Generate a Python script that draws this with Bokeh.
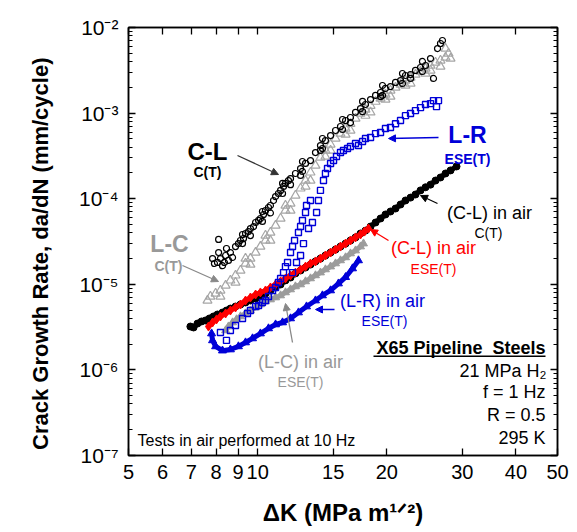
import math
from bokeh.plotting import figure
from bokeh.models import LogAxis, FixedTicker, Label, Arrow, NormalHead, BoxAnnotation, Range1d
from bokeh.embed import file_html
from bokeh.resources import INLINE

# ---------------- axis ticks ----------------
x_ticks = [5, 6, 7, 8, 9, 10, 15, 20, 30, 40, 50]
x_tick_labels = ["5", "6", "7", "8", "9", "10", "15", "20", "30", "40", "50"]
y_ticks = [1e-7, 1e-6, 1e-5, 1e-4, 1e-3, 1e-2]
y_tick_labels = ["10\u207b\u2077", "10\u207b\u2076", "10\u207b\u2075", "10\u207b\u2074", "10\u207b\u00b3", "10\u207b\u00b2"]

# ---------------- data: 21 MPa H2 ----------------
# C-L, C(T) (black open circles)
cl_h2_dk = [8.06, 8.19, 8.28, 8.42, 8.55, 8.64, 8.74, 8.11, 8.46, 8.11,
            8.88, 9.02, 9.12, 9.27, 9.37, 9.52, 9.62, 9.78, 9.89, 10.05,
            10.15, 10.32, 10.43, 10.60, 10.71, 10.89, 11.01, 11.18, 11.31, 11.49,
            11.61, 11.80, 11.93, 12.25, 12.59, 12.93, 13.28, 13.64, 14.01, 14.39,
            14.79, 15.19, 15.60, 16.03, 16.46, 16.91, 17.37, 17.84, 18.33, 18.83,
            19.34, 19.86, 20.40, 20.96, 21.53, 22.11, 22.72, 23.33, 23.97, 24.62,
            25.29, 25.70, 26.26, 26.68, 26.97,
            12.59, 14.01, 16.46, 19.34, 22.72, 10.71, 11.93, 9.62,
            9.22, 9.22, 10.26, 10.26, 11.43, 11.43, 12.72, 12.72, 14.16, 14.16,
            15.77, 15.77, 17.56, 17.56, 19.55, 19.55, 21.76, 21.76, 24.22, 24.22,
            7.85, 7.93, 8.37]
cl_h2_dadn = [1.80e-5, 2.00e-5, 1.65e-5, 2.17e-5, 1.90e-5, 2.35e-5, 2.06e-5, 2.35e-5, 2.62e-5, 3.34e-5,
              2.76e-5, 2.99e-5, 3.25e-5, 3.43e-5, 3.92e-5, 4.13e-5, 4.48e-5, 4.73e-5, 5.27e-5, 5.57e-5,
              5.87e-5, 6.54e-5, 7.28e-5, 7.89e-5, 8.33e-5, 9.53e-5, 1.06e-4, 1.15e-4, 1.25e-4, 1.39e-4,
              1.51e-4, 1.63e-4, 1.72e-4, 1.97e-4, 2.25e-4, 2.58e-4, 2.79e-4, 3.46e-4, 4.18e-4, 4.78e-4,
              5.47e-4, 6.26e-4, 6.97e-4, 8.19e-4, 8.88e-4, 1.02e-3, 1.13e-3, 1.26e-3, 1.44e-3, 1.61e-3,
              1.74e-3, 1.94e-3, 2.04e-3, 2.28e-3, 2.40e-3, 2.75e-3, 2.82e-3, 3.15e-3, 3.41e-3, 3.60e-3,
              4.34e-3, 2.54e-3, 5.68e-3, 6.50e-3, 7.05e-3,
              1.87e-4, 3.66e-4, 7.73e-4, 1.56e-3, 2.54e-3, 6.82e-5, 1.46e-4, 3.71e-5,
              3.82e-5, 2.99e-5, 7.09e-5, 5.42e-5, 1.51e-4, 1.15e-4, 2.72e-4, 2.08e-4, 5.05e-4, 3.86e-4,
              8.42e-4, 6.43e-4, 1.37e-3, 1.04e-3, 2.10e-3, 1.61e-3, 2.90e-3, 2.22e-3, 4.01e-3, 3.06e-3,
              2.00e-5, 1.75e-5, 1.80e-5]

# L-C, C(T) (gray open triangles)
lc_h2_dk = [7.64, 7.76, 7.98, 8.19, 8.42, 8.64, 8.88, 9.12, 9.37, 9.62,
            9.89, 10.15, 10.43, 10.71, 11.01, 11.31, 11.61, 11.93, 12.25, 12.59,
            12.93, 13.28, 13.64, 14.01, 14.39, 14.79, 15.19, 15.60, 16.03, 16.46,
            16.91, 17.37, 17.84, 18.33, 18.83, 19.34, 19.86, 20.40, 20.96, 21.53,
            22.11, 22.72, 23.33, 23.97, 24.62, 25.29, 25.98, 26.68, 27.41, 27.86,
            28.16, 27.41,
            9.62, 10.71, 11.93, 13.28, 14.79, 16.46, 18.33, 20.40, 22.72, 25.29, 8.19, 8.88,
            9.37, 10.43, 11.61, 12.93, 14.39, 16.03, 17.84, 19.86, 22.11, 24.62, 26.68]
lc_h2_dadn = [6.46e-6, 7.20e-6, 7.81e-6, 8.47e-6, 9.68e-6, 1.11e-5, 1.27e-5, 1.45e-5, 1.75e-5, 2.00e-5,
              2.35e-5, 2.76e-5, 3.25e-5, 4.03e-5, 4.86e-5, 5.87e-5, 7.28e-5, 8.79e-5, 1.09e-4, 1.32e-4,
              1.63e-4, 2.03e-4, 2.44e-4, 3.03e-4, 3.66e-4, 4.30e-4, 5.05e-4, 5.76e-4, 6.61e-4, 7.52e-4,
              8.65e-4, 9.89e-4, 1.10e-3, 1.22e-3, 1.36e-3, 1.48e-3, 1.65e-3, 1.84e-3, 1.99e-3, 2.16e-3,
              2.40e-3, 2.61e-3, 2.82e-3, 3.06e-3, 3.32e-3, 3.60e-3, 3.90e-3, 4.12e-3, 4.46e-3, 4.97e-3,
              4.34e-3, 5.68e-3,
              1.70e-5, 3.25e-5, 7.28e-5, 1.63e-4, 3.66e-4, 6.26e-4, 1.02e-3, 1.56e-3, 2.22e-3, 3.15e-3, 7.20e-6, 1.05e-5,
              2.00e-5, 3.72e-5, 8.33e-5, 1.39e-4, 3.11e-4, 5.62e-4, 9.34e-4, 1.44e-3, 2.10e-3, 2.90e-3, 3.50e-3]

# L-R, ESE(T) (blue open squares)
lr_h2_dk = [8.19, 8.46, 8.64, 8.88, 9.22, 9.47, 9.62, 9.89, 10.05, 10.26,
            10.43, 10.60, 10.83, 11.01, 11.18, 11.31, 11.49, 11.61, 11.74, 11.93,
            12.06, 12.19, 12.45, 12.59, 12.72, 12.93, 13.00, 13.28, 13.14, 13.42,
            13.72, 13.86, 14.01, 14.24, 14.39, 14.55, 14.79, 15.03, 15.27, 15.60,
            15.85, 16.20, 16.46, 16.91, 17.18, 17.56, 17.84, 18.33, 18.83, 19.34,
            19.86, 20.40, 20.96, 21.53, 22.11, 22.72, 23.33, 23.97, 24.62, 25.29,
            25.70, 26.40, 26.12, 12.79, 12.59, 12.32, 12.06]
lr_h2_dadn = [2.73e-6, 2.21e-6, 2.89e-6, 3.30e-6, 3.99e-6, 4.56e-6, 4.94e-6, 5.50e-6, 5.65e-6, 6.13e-6,
              6.46e-6, 7.20e-6, 8.47e-6, 9.18e-6, 1.05e-5, 1.17e-5, 1.37e-5, 1.61e-5, 1.80e-5, 2.35e-5,
              2.76e-5, 3.25e-5, 4.03e-5, 4.73e-5, 5.57e-5, 6.90e-5, 8.33e-5, 9.53e-5, 4.48e-5, 5.27e-5,
              6.90e-5, 9.53e-5, 1.25e-4, 1.63e-4, 1.97e-4, 2.25e-4, 2.58e-4, 2.79e-4, 3.11e-4, 3.46e-4,
              3.66e-4, 3.86e-4, 4.07e-4, 4.41e-4, 4.18e-4, 4.65e-4, 5.05e-4, 5.19e-4, 5.76e-4, 5.93e-4,
              6.61e-4, 6.79e-4, 7.52e-4, 8.19e-4, 9.34e-4, 9.89e-4, 1.07e-3, 1.16e-3, 1.26e-3, 1.29e-3,
              1.40e-3, 1.40e-3, 1.19e-3, 2.99e-5, 2.17e-5, 1.80e-5, 1.37e-5]

# ---------------- data: air, 10 Hz ----------------
# (C-L) in air, C(T) (black filled)
cl_air_dk = [6.97, 7.09, 7.24, 7.40, 7.56, 7.72, 7.89, 8.06, 8.28, 8.46,
             8.64, 8.88, 9.12, 9.37, 9.62, 9.89, 10.15, 10.43, 10.71, 11.01,
             11.31, 11.61, 11.93, 12.25, 12.59, 12.93, 13.28, 13.64, 14.01, 14.39,
             14.79, 15.19, 15.60, 16.03, 16.46, 16.91, 17.37, 17.84, 18.33, 18.83,
             19.34, 19.86, 20.40, 20.96, 21.53, 22.11, 22.72, 23.33, 23.97, 24.62,
             25.29, 25.98, 26.68, 27.41, 28.16, 29.08]
cl_air_dadn = [3.21e-6, 3.13e-6, 3.48e-6, 3.68e-6, 3.78e-6, 3.99e-6, 4.21e-6, 4.44e-6, 4.68e-6, 4.94e-6,
               5.21e-6, 5.50e-6, 5.81e-6, 6.13e-6, 6.46e-6, 6.82e-6, 7.20e-6, 7.81e-6, 8.47e-6, 9.18e-6,
               9.95e-6, 1.11e-5, 1.20e-5, 1.34e-5, 1.45e-5, 1.57e-5, 1.70e-5, 1.85e-5, 2.00e-5, 2.17e-5,
               2.35e-5, 2.55e-5, 2.76e-5, 2.99e-5, 3.25e-5, 3.53e-5, 3.92e-5, 4.24e-5, 4.73e-5, 5.27e-5,
               5.87e-5, 6.54e-5, 7.09e-5, 7.68e-5, 8.55e-5, 9.53e-5, 1.03e-4, 1.12e-4, 1.25e-4, 1.36e-4,
               1.46e-4, 1.63e-4, 1.77e-4, 1.97e-4, 2.14e-4, 2.38e-4]

# (C-L) in air, ESE(T) (red filled)
cle_air_dk = [7.68, 7.85, 8.02, 8.19, 8.42, 8.64, 8.88, 9.12, 9.37, 9.62,
              9.89, 10.15, 10.43, 10.71, 11.01, 11.31, 11.61, 11.93, 12.25, 12.59,
              12.93, 13.28, 13.64, 14.01, 14.39, 14.79, 15.19, 15.60, 16.03, 16.46,
              16.91, 17.37, 17.75, 18.13]
cle_air_dadn = [3.21e-6, 3.58e-6, 3.89e-6, 4.21e-6, 4.56e-6, 4.94e-6, 5.36e-6, 5.81e-6, 6.46e-6, 7.01e-6,
                7.60e-6, 8.03e-6, 8.47e-6, 9.18e-6, 9.95e-6, 1.08e-5, 1.17e-5, 1.27e-5, 1.37e-5, 1.49e-5,
                1.61e-5, 1.75e-5, 1.85e-5, 2.00e-5, 2.17e-5, 2.35e-5, 2.55e-5, 2.76e-5, 2.99e-5, 3.25e-5,
                3.53e-5, 3.82e-5, 4.13e-5, 4.48e-5]

# (L-C) in air, ESE(T) (gray filled)
lc_air_dk = [8.42, 8.55, 8.74, 8.93, 9.12, 9.37, 9.62, 9.89, 10.15, 10.43,
             10.71, 11.01, 11.31, 11.61, 11.93, 12.25, 12.59, 12.93, 13.28, 13.64,
             14.01, 14.39, 14.79, 15.19, 15.60, 16.03, 16.46, 16.91, 17.37, 17.65]
lc_air_dadn = [2.89e-6, 3.21e-6, 3.58e-6, 3.89e-6, 4.21e-6, 4.56e-6, 4.94e-6, 5.36e-6, 5.81e-6, 6.29e-6,
               6.64e-6, 7.01e-6, 7.40e-6, 8.03e-6, 8.70e-6, 9.43e-6, 9.95e-6, 1.08e-5, 1.17e-5, 1.27e-5,
               1.37e-5, 1.49e-5, 1.61e-5, 1.75e-5, 1.90e-5, 2.06e-5, 2.29e-5, 2.48e-5, 2.76e-5, 2.99e-5]

# (L-R) in air, ESE(T) (blue filled)
lr_air_dk = [7.81, 7.85, 7.98, 8.28, 8.64, 9.02, 9.37, 9.73, 10.15, 10.60,
             11.01, 11.43, 11.93, 12.45, 13.00, 13.64, 14.16, 14.79, 15.43, 16.03,
             16.64, 17.18]
lr_air_dadn = [2.66e-6, 2.21e-6, 1.88e-6, 1.68e-6, 1.73e-6, 1.88e-6, 2.09e-6, 2.33e-6, 2.66e-6, 3.05e-6,
               3.39e-6, 3.58e-6, 3.99e-6, 4.68e-6, 5.50e-6, 6.46e-6, 7.40e-6, 8.47e-6, 1.02e-5, 1.21e-5,
               1.53e-5, 1.90e-5]

BLACK = "#000000"
GRAY = "#a6a6a6"
GRAY_TXT = "#999999"
BLUE = "#0000d8"
RED = "#ff0000"
FONT = "Liberation Sans"

p = figure(width=572, height=530, x_axis_type="log", y_axis_type="log",
           x_range=Range1d(5, 50), y_range=Range1d(1e-7, 1e-2),
           output_backend="svg", toolbar_location=None,
           min_border_left=128, min_border_right=15, min_border_top=27, min_border_bottom=75)
p.grid.visible = False
p.outline_line_color = BLACK
p.outline_line_width = 1.5
p.background_fill_color = "white"
p.border_fill_color = "white"

y_minor = [m * 10.0 ** e for e in range(-7, -2) for m in range(2, 10)]


def style_axis(ax):
    ax.axis_line_color = BLACK
    ax.axis_line_width = 1.5
    ax.major_tick_in = 7
    ax.major_tick_out = 0
    ax.minor_tick_in = 4
    ax.minor_tick_out = 0
    ax.major_tick_line_color = BLACK
    ax.minor_tick_line_color = BLACK
    ax.major_tick_line_width = 1.3
    ax.minor_tick_line_width = 1.1
    ax.major_label_text_font = FONT
    ax.major_label_text_color = BLACK


xa = p.xaxis[0]
xa.ticker = FixedTicker(ticks=x_ticks, minor_ticks=[])
xa.major_label_overrides = dict(zip(x_ticks, x_tick_labels))
style_axis(xa)
xa.major_label_text_font_size = "20px"
xa.major_label_standoff = 9
xa.axis_label = "\u0394K (MPa m\u00b9\u141f\u00b2)"
xa.axis_label_text_font = FONT
xa.axis_label_text_font_size = "24px"
xa.axis_label_text_font_style = "bold"
xa.axis_label_text_color = BLACK
xa.axis_label_standoff = 17

ya = p.yaxis[0]
ya.ticker = FixedTicker(ticks=y_ticks, minor_ticks=y_minor)
ya.major_label_overrides = dict(zip(y_ticks, y_tick_labels))
style_axis(ya)
ya.major_label_text_font_size = "21px"
ya.major_label_standoff = 10
# trailing no-break spaces nudge the centred title slightly downwards, as in the original
ya.axis_label = "Crack Growth Rate, da/dN (mm/cycle)" + "\u00a0" * 4
ya.axis_label_text_font = FONT
ya.axis_label_text_font_size = "22px"
ya.axis_label_text_font_style = "bold"
ya.axis_label_text_color = BLACK
ya.axis_label_standoff = 23

# mirror axes (ticks only) on top and right
top = LogAxis(ticker=FixedTicker(ticks=x_ticks, minor_ticks=[]),
              major_label_overrides={t: "" for t in x_ticks})
style_axis(top)
p.add_layout(top, "above")
right = LogAxis(ticker=FixedTicker(ticks=y_ticks, minor_ticks=y_minor),
                major_label_overrides={t: "" for t in y_ticks})
style_axis(right)
p.add_layout(right, "right")

# ---------------- in-air curves (filled, dense) ----------------
p.line(cl_air_dk, cl_air_dadn, line_color=BLACK, line_width=5)
p.scatter(cl_air_dk, cl_air_dadn, marker="circle", size=7, fill_color=BLACK, line_color=BLACK)
p.line(lc_air_dk, lc_air_dadn, line_color="#9c9c9c", line_width=5)
p.scatter(lc_air_dk, lc_air_dadn, marker="triangle", size=8, fill_color="#9c9c9c", line_color="#9c9c9c")
p.line(cle_air_dk, cle_air_dadn, line_color=RED, line_width=5)
p.scatter(cle_air_dk, cle_air_dadn, marker="diamond", size=9, fill_color=RED, line_color=RED)
p.line(lr_air_dk, lr_air_dadn, line_color=BLUE, line_width=5)
p.scatter(lr_air_dk, lr_air_dadn, marker="triangle", size=8, fill_color=BLUE, line_color=BLUE)

# ---------------- hydrogen curves (open markers) ----------------
p.scatter(lc_h2_dk, lc_h2_dadn, marker="triangle", size=9, fill_color=None, line_color=GRAY, line_width=1.2)
p.scatter(cl_h2_dk, cl_h2_dadn, marker="circle", size=6, fill_color=None, line_color=BLACK, line_width=1.2)
p.scatter(lr_h2_dk, lr_h2_dadn, marker="square", size=6, fill_color=None, line_color=BLUE, line_width=1.4)


def lab(text, sx, sy, size, color=BLACK, bold=False, align="center", baseline="middle"):
    p.add_layout(Label(x=sx, y=sy, x_units="screen", y_units="screen", text=text,
                       text_font=FONT, text_font_size=f"{size}px", text_color=color,
                       text_font_style="bold" if bold else "normal",
                       text_align=align, text_baseline=baseline))


def arrow(x0, y0, x1, y1, color):
    p.add_layout(Arrow(x_start=x0, y_start=y0, x_end=x1, y_end=y1,
                       start_units="screen", end_units="screen",
                       line_color=color, line_width=1.3,
                       end=NormalHead(size=7, fill_color=color, line_color=color)))


# series labels
lab("C-L", 79, 304, 24, BLACK, bold=True)
lab("C(T)", 79, 284, 14, BLACK, bold=True)
arrow(109, 300, 150, 281, "#333333")

lab("L-C", 41, 212, 23, GRAY_TXT, bold=True)
lab("C(T)", 40, 190, 14, GRAY_TXT, bold=True)
arrow(54, 190, 90, 174, "#888888")

lab("L-R", 339, 321, 23, BLUE, bold=True)
lab("ESE(T)", 339, 297, 14, BLUE, bold=True)
arrow(310, 318, 260, 317, BLUE)

lab("(C-L) in air", 361, 243, 18, BLACK)
lab("C(T)", 360, 223, 14, BLACK)
arrow(309, 252, 292, 260, BLACK)

lab("(C-L) in air", 305, 208, 18, RED)
lab("ESE(T)", 305, 187, 14, RED)
arrow(260, 215, 242, 226, RED)

lab("(L-R) in air", 254, 155, 18, BLUE)
lab("ESE(T)", 256, 135, 14, BLUE)
arrow(206, 146, 187, 146, BLUE)

lab("(L-C) in air", 172, 94, 18, GRAY_TXT)
lab("ESE(T)", 172, 74, 14, GRAY_TXT)
arrow(164, 113, 157, 152, "#888888")

# test conditions
lab("X65 Pipeline\u00a0 Steels", 417, 108, 18, BLACK, bold=True, align="right")
p.add_layout(BoxAnnotation(left=245, right=417, bottom=98.5, top=100,
                           left_units="screen", right_units="screen",
                           bottom_units="screen", top_units="screen",
                           fill_color=BLACK, fill_alpha=1, line_color=None))
lab("21 MPa H\u2082", 418, 85, 18, BLACK, align="right")
lab("f = 1 Hz", 417, 64, 18, BLACK, align="right")
lab("R = 0.5", 417, 41, 18, BLACK, align="right")
lab("295 K", 417, 18, 18, BLACK, align="right")
lab("Tests in air performed at 10 Hz", 9, 15, 16, BLACK, align="left")

open("out.html", "w").write(file_html(p, INLINE))
